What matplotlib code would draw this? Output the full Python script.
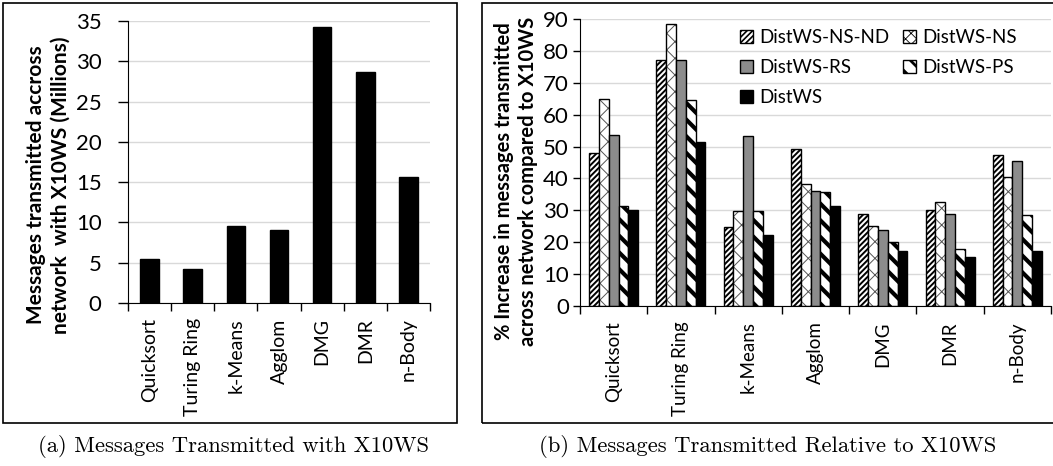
import matplotlib.pyplot as plt
import matplotlib.patches as mpatches
import numpy as np

plt.rcParams['font.family'] = ['Lato', 'DejaVu Sans']

# Data
benchmarks = ['Quicksort', 'Turing Ring', 'k-Means', 'Agglom', 'DMG', 'DMR', 'n-Body']
msgs_x10ws = [5.4, 4.2, 9.6, 9.1, 34.3, 28.7, 15.7]

ns_nd = [48.0, 77.0, 24.7, 49.3, 29.0, 30.2, 47.2]
ns = [65.0, 88.5, 29.7, 38.3, 25.0, 32.7, 40.4]
rs = [53.5, 77.2, 53.2, 36.2, 23.8, 29.0, 45.5]
ps = [31.5, 64.5, 29.8, 35.8, 20.0, 17.9, 28.5]
distws = [30.2, 51.5, 22.2, 31.5, 17.1, 15.3, 17.1]

W, H = 1053, 466
fig = plt.figure(figsize=(W / 100, H / 100), dpi=100)


def px_axes(x0, y0, x1, y1):
    return fig.add_axes([x0 / W, (H - y1) / H, (x1 - x0) / W, (y1 - y0) / H])


def hatch_lw(patches, lw):
    for p in patches:
        p.set_hatch_linewidth(lw)


def style_axes(ax, n, ymax, step, ypad, ticklen, xfs):
    ax.set_xlim(-0.5, n - 0.5)
    ax.set_ylim(0, ymax)
    ax.set_yticks(np.arange(0, ymax + 1, step))
    ax.set_xticks(np.arange(n))
    ax.set_xticklabels(benchmarks, rotation=90, fontsize=xfs)
    ax.set_xticks(np.arange(n + 1) - 0.5, minor=True)
    ax.tick_params(axis='x', which='major', length=0, pad=11)
    ax.tick_params(axis='x', which='minor', length=6, direction='out', width=1)
    ax.tick_params(axis='y', length=ticklen, direction='out', width=1,
                   labelsize=16, pad=ypad)
    for s in ['top', 'right']:
        ax.spines[s].set_visible(False)
    ax.yaxis.grid(True, color='#d9d9d9', linewidth=1)
    ax.set_axisbelow(True)


# Frames around both panels
fig.patches.append(mpatches.Rectangle((3 / W, (H - 423) / H), 454 / W, 420 / H,
                                      transform=fig.transFigure, fill=False,
                                      edgecolor='black', linewidth=1.2))
fig.patches.append(mpatches.Rectangle((482 / W, (H - 423) / H), 580 / W, 420 / H,
                                      transform=fig.transFigure, fill=False,
                                      edgecolor='black', linewidth=1.2))

# (a) absolute messages
ax1 = px_axes(128, 21, 430, 303)
x = np.arange(len(benchmarks))
ax1.bar(x, msgs_x10ws, width=0.43, color='black', edgecolor='black')
style_axes(ax1, len(benchmarks), 35, 5, 12, 7, 14)
ax1.set_ylabel('Messages transmitted accross\nnetwork  with X10WS (Millions)',
               fontsize=15, fontweight='bold', linespacing=1.3)
ax1.yaxis.set_label_coords(-0.19, 0.418)

# (b) relative increase
ax2 = px_axes(580, 19, 1051, 306)
bw = 0.146
offs = (np.arange(5) - 2) * bw

b1 = ax2.bar(x + offs[0], ns_nd, bw, color='white', edgecolor='black',
             hatch='//////', linewidth=1)
hatch_lw(b1, 1.4)
b2 = ax2.bar(x + offs[1], ns, bw, color='white', edgecolor='#555555',
             hatch='xx', linewidth=0)
hatch_lw(b2, 0.7)
ax2.bar(x + offs[1], ns, bw, fill=False, edgecolor='black', linewidth=1)
b3 = ax2.bar(x + offs[2], rs, bw, color='#8c8c8c', edgecolor='black', linewidth=1)
b4 = ax2.bar(x + offs[3], ps, bw, color='white', edgecolor='black',
             hatch='\\\\', linewidth=1)
hatch_lw(b4, 3.0)
b5 = ax2.bar(x + offs[4], distws, bw, color='black', edgecolor='black', linewidth=1)
style_axes(ax2, len(benchmarks), 90, 10, 3, 5, 13.5)
ax2.set_ylabel('% Increase in messages transmitted\nacross network compared to X10WS',
               fontsize=14.5, fontweight='bold', linespacing=1.2)
ax2.yaxis.set_label_coords(-0.09, 0.435)

# legend proxies (ordered so that the two columns read row by row)
h_nsnd = mpatches.Patch(facecolor='white', edgecolor='black', hatch='//////', linewidth=1)
h_ns = mpatches.Patch(facecolor='white', edgecolor='black', hatch='xxx', linewidth=1)
h_rs = mpatches.Patch(facecolor='#8c8c8c', edgecolor='black', linewidth=1)
h_ps = mpatches.Patch(facecolor='white', edgecolor='black', hatch='\\\\', linewidth=1)
h_dw = mpatches.Patch(facecolor='black', edgecolor='black', linewidth=1)
leg_h = [h_nsnd, h_rs, h_dw, h_ns, h_ps]
leg_l = ['DistWS-NS-ND', 'DistWS-RS', 'DistWS', 'DistWS-NS', 'DistWS-PS']
leg = ax2.legend(leg_h, leg_l, ncol=2, frameon=False, fontsize=13.5,
                 loc='upper left', bbox_to_anchor=(0.34, 0.965), borderaxespad=0,
                 borderpad=0, handlelength=0.7, handleheight=0.7, handletextpad=0.3,
                 columnspacing=0.75, labelspacing=0.7)
hatch_lw(leg.get_patches(), 1.2)
hatch_lw([leg.get_patches()[4]], 2.0)
hatch_lw([leg.get_patches()[3]], 0.6)

# Captions
fig.text(233 / W, 1 - 446 / H, '(a) Messages Transmitted with X10WS',
         family='cmr10', fontsize=16.3, ha='center', va='center')
fig.text(768 / W, 1 - 446 / H, '(b) Messages Transmitted Relative to X10WS',
         family='cmr10', fontsize=16.3, ha='center', va='center')

fig.savefig('out.png', dpi=100)
